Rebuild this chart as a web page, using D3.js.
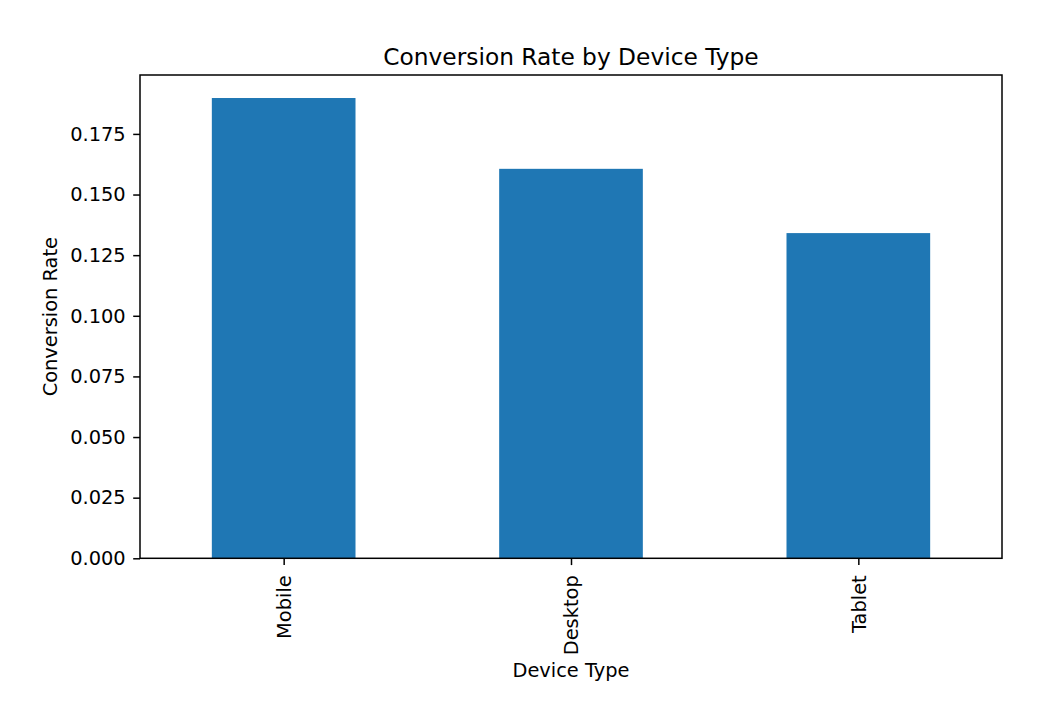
<!DOCTYPE html>
<html><head><meta charset="utf-8">
<script src="https://cdn.jsdelivr.net/npm/d3@7"></script>
<style>body{margin:0;background:#fff}svg{display:block}text{font-family:"DejaVu Sans",sans-serif;fill:#000}</style>
</head><body>
<script>
const categories = ["Mobile", "Desktop", "Tablet"];
const values = [0.1898, 0.1606, 0.1341];
const yTicks = [0, 0.025, 0.05, 0.075, 0.1, 0.125, 0.15, 0.175];
const title = "Conversion Rate by Device Type";
const xTitle = "Device Type";
const yTitle = "Conversion Rate";

const W = 1059, H = 722;
const m = {left: 140, right: 1002, top: 75, bottom: 558.3};
const tickFont = "19.4px", titleFont = "23.3px";
const svg = d3.select("body").append("svg").attr("width", W).attr("height", H);

const x = d3.scaleLinear().domain([-0.5, categories.length - 0.5]).range([m.left, m.right]);
const y = d3.scaleLinear().domain([0, d3.max(values) * 1.05]).range([m.bottom, m.top]);

svg.append("g").selectAll("rect").data(values).join("rect")
  .attr("x", (d, i) => x(i - 0.25)).attr("width", (d, i) => x(i + 0.25) - x(i - 0.25))
  .attr("y", d => y(d)).attr("height", d => y(0) - y(d))
  .attr("fill", "#1f77b4");

const yAxis = svg.append("g").attr("transform", `translate(${m.left},0)`)
  .call(d3.axisLeft(y).tickValues(yTicks).tickFormat(d3.format(".3f")).tickSizeOuter(0).tickSize(6.8).tickPadding(7.5));
yAxis.select(".domain").remove();
yAxis.selectAll("line").attr("stroke", "#000").attr("stroke-width", 1.5);
yAxis.selectAll("text").attr("font-size", tickFont).attr("fill", "#000").style("font-family", "DejaVu Sans");

const xAxis = svg.append("g").attr("transform", `translate(0,${m.bottom})`)
  .call(d3.axisBottom(x).tickValues(d3.range(categories.length)).tickFormat(i => categories[i]).tickSizeOuter(0).tickSize(6.8).tickPadding(0));
xAxis.select(".domain").remove();
xAxis.selectAll("line").attr("stroke", "#000").attr("stroke-width", 1.5);
xAxis.selectAll("text").attr("font-size", tickFont).attr("fill", "#000").style("font-family", "DejaVu Sans")
  .attr("transform", "rotate(-90)").attr("text-anchor", "end").attr("dy", "0.35em").attr("x", -17).attr("y", 0);

svg.append("rect").attr("x", m.left).attr("y", m.top).attr("width", m.right - m.left).attr("height", m.bottom - m.top)
  .attr("fill", "none").attr("stroke", "#000").attr("stroke-width", 1.5);

svg.append("text").attr("x", (m.left + m.right) / 2).attr("y", 65).attr("text-anchor", "middle")
  .attr("font-size", titleFont).text(title);
svg.append("text").attr("x", (m.left + m.right) / 2).attr("y", 677).attr("text-anchor", "middle")
  .attr("font-size", tickFont).text(xTitle);
svg.append("text").attr("transform", `translate(57,${(m.top + m.bottom) / 2}) rotate(-90)`).attr("text-anchor", "middle")
  .attr("font-size", tickFont).text(yTitle);
</script>
</body></html>
